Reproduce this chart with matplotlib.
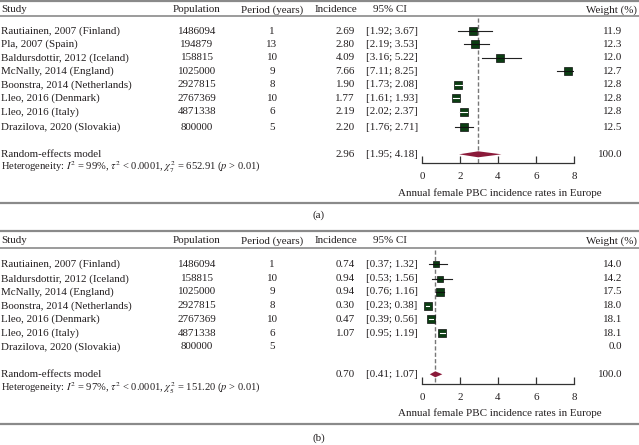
import matplotlib
matplotlib.use("Agg")
import matplotlib.pyplot as plt
import numpy as np

# ---------------- data ----------------
studies_a = ["Rautiainen, 2007 (Finland)", "Pla, 2007 (Spain)", "Baldursdottir, 2012 (Iceland)",
             "McNally, 2014 (England)", "Boonstra, 2014 (Netherlands)", "Lleo, 2016 (Denmark)",
             "Lleo, 2016 (Italy)", "Drazilova, 2020 (Slovakia)"]
population_a = ["1486094", "194879", "158815", "1025000", "2927815", "2767369", "4871338", "800000"]
period_a = ["1", "13", "10", "9", "8", "10", "6", "5"]
incidence_a = [2.69, 2.80, 4.09, 7.66, 1.90, 1.77, 2.19, 2.20]
lower_a = [1.92, 2.19, 3.16, 7.11, 1.73, 1.61, 2.02, 1.76]
upper_a = [3.67, 3.53, 5.22, 8.25, 2.08, 1.93, 2.37, 2.71]
weight_a = [11.9, 12.3, 12.0, 12.7, 12.8, 12.8, 12.8, 12.5]
pooled_a = (2.96, 1.95, 4.18)
het_a = r"Heterogeneity: $I^2$ = 99%, $\tau^2$ < 0.0001, $\chi^2_7$ = 652.91 ($p$ > 0.01)"

studies_b = ["Rautiainen, 2007 (Finland)", "Baldursdottir, 2012 (Iceland)", "McNally, 2014 (England)",
             "Boonstra, 2014 (Netherlands)", "Lleo, 2016 (Denmark)", "Lleo, 2016 (Italy)",
             "Drazilova, 2020 (Slovakia)"]
population_b = ["1486094", "158815", "1025000", "2927815", "2767369", "4871338", "800000"]
period_b = ["1", "10", "9", "8", "10", "6", "5"]
incidence_b = [0.74, 0.94, 0.94, 0.30, 0.47, 1.07, None]
lower_b = [0.37, 0.53, 0.76, 0.23, 0.39, 0.95, None]
upper_b = [1.32, 1.56, 1.16, 0.38, 0.56, 1.19, None]
weight_b = [14.0, 14.2, 17.5, 18.0, 18.1, 18.1, 0.0]
pooled_b = (0.70, 0.41, 1.07)
het_b = r"Heterogeneity: $I^2$ = 97%, $\tau^2$ < 0.0001, $\chi^2_5$ = 151.20 ($p$ > 0.01)"

xticks = [0, 2, 4, 6, 8]
xlabel = "Annual female PBC incidence rates in Europe"

# ---------------- style ----------------
W, H = 639, 445
plt.rcParams['font.family'] = ['Liberation Serif', 'DejaVu Serif']
plt.rcParams['mathtext.fontset'] = 'stix'
FS = 7.9
TXT = "#231f20"
LINEC = "#8a8a8a"
SQ = "#0b3d12"
DIA = "#8b1a3a"

fig = plt.figure(figsize=(W / 100, H / 100), dpi=100)
base = fig.add_axes([0, 0, 1, 1])
base.set_xlim(0, W)
base.set_ylim(H, 0)
base.axis("off")

X0, X8 = 422, 574   # pixel positions of 0 and 8 on the forest axis


def panel(off, studies, pop, per, inc, lo, hi, wt, pooled, het, rows, y_re, y_het,
          y_axis, y_bot, lab, y_lab, y_top, y_head, y_hline):
    t = dict(fontsize=FS, color=TXT, va="center")
    # border lines
    base.plot([0, W], [y_top, y_top], color=LINEC, lw=1.6, solid_capstyle="butt")
    base.plot([0, W], [y_hline, y_hline], color=LINEC, lw=1.2, solid_capstyle="butt")
    base.plot([0, W], [y_bot, y_bot], color=LINEC, lw=1.6, solid_capstyle="butt")
    # header
    base.text(1, y_head, "Study", ha="left", **t)
    base.text(197, y_head, "Population", ha="center", **t)
    base.text(272, y_head, "Period (years)", ha="center", **t)
    base.text(336, y_head, "Incidence", ha="center", **t)
    base.text(373, y_head, "95% CI", ha="left", **t)
    base.text(637, y_head, "Weight (%)", ha="right", **t)
    for i, y in enumerate(rows):
        base.text(1, y, studies[i], ha="left", **t)
        base.text(197, y, pop[i], ha="center", **t)
        base.text(272, y, per[i], ha="center", **t)
        if inc[i] is not None:
            base.text(355, y, f"{inc[i]:.2f}", ha="right", **t)
            base.text(366, y, f"[{lo[i]:.2f}; {hi[i]:.2f}]", ha="left", **t)
        base.text(622, y, f"{wt[i]:.1f}", ha="right", **t)
    base.text(1, y_re, "Random-effects model", ha="left", **t)
    base.text(355, y_re, f"{pooled[0]:.2f}", ha="right", **t)
    base.text(366, y_re, f"[{pooled[1]:.2f}; {pooled[2]:.2f}]", ha="left", **t)
    base.text(622, y_re, "100.0", ha="right", **t)
    base.text(1, y_het, het, ha="left", fontsize=7.6, color=TXT, va="center")
    base.text(500, y_lab, xlabel, ha="center", **t)
    base.text(319, lab, "(a)" if off == 0 else "(b)", ha="center", **t)

    # forest axes (x in data units, y in pixel rows)
    y0, y1 = off, off + 222
    ax = fig.add_axes([X0 / W, 1 - y1 / H, (X8 - X0) / W, (y1 - y0) / H])
    ax.set_xlim(0, 8)
    ax.set_ylim(y1, y0)
    ax.patch.set_visible(False)
    for s in ["top", "left", "right"]:
        ax.spines[s].set_visible(False)
    ax.spines["bottom"].set_position(("data", y_axis))
    ax.spines["bottom"].set_bounds(0, 8)
    ax.spines["bottom"].set_color("#333333")
    ax.spines["bottom"].set_linewidth(0.9)
    ax.set_yticks([])
    ax.set_xticks(xticks)
    ax.tick_params(axis="x", direction="in", length=5, width=0.9, color="#333333",
                   labelsize=FS, labelcolor=TXT, pad=6.5)
    ppu = (X8 - X0) / 8.0
    # dashed pooled line
    ax.plot([pooled[0], pooled[0]], [y_hline + 2, y_axis], color="#777777", lw=1.0,
            ls=(0, (3, 1.6)), zorder=1)
    wmax = max(wt)
    for i, y in enumerate(rows):
        if inc[i] is None:
            continue
        side = 7.8 * np.sqrt(wt[i] / wmax)
        h = side / 2 / ppu
        ax.plot([lo[i], hi[i]], [y, y], color="#222222", lw=0.8, zorder=2)
        ax.plot([inc[i]], [y], marker="s", ms=side * 0.72, mfc=SQ, mec="#111111",
                mew=0.5, ls="none", zorder=3)
        if lo[i] > inc[i] - h and hi[i] < inc[i] + h:
            ax.plot([lo[i], hi[i]], [y, y], color="white", lw=0.8, zorder=4)
        else:
            ax.plot([max(lo[i], inc[i] - h), min(hi[i], inc[i] + h)], [y, y],
                    color="#111111", lw=0.8, zorder=4)
    # diamond
    dh = 3.0
    ax.fill([pooled[1], pooled[0], pooled[2], pooled[0]],
            [y_re, y_re - dh, y_re, y_re + dh], color=DIA, lw=0, zorder=3)


panel(0, studies_a, population_a, period_a, incidence_a, lower_a, upper_a, weight_a,
      pooled_a, het_a,
      rows=[31, 44.3, 57.7, 71, 84.7, 98.3, 111.7, 127], y_re=154.3, y_het=166.7,
      y_axis=162.5, y_bot=202.5, lab=215, y_lab=192.7, y_top=1.2, y_head=10,
      y_hline=16.3)

panel(220, studies_b, population_b, period_b, incidence_b, lower_b, upper_b, weight_b,
      pooled_b, het_b,
      rows=[264.3, 278.7, 292, 305.7, 319.3, 333.3, 346.7], y_re=374.3, y_het=388.3,
      y_axis=383.5, y_bot=424.3, lab=438, y_lab=413.3, y_top=231, y_head=240.7,
      y_hline=248.3)

fig.savefig("out.png", dpi=100)
